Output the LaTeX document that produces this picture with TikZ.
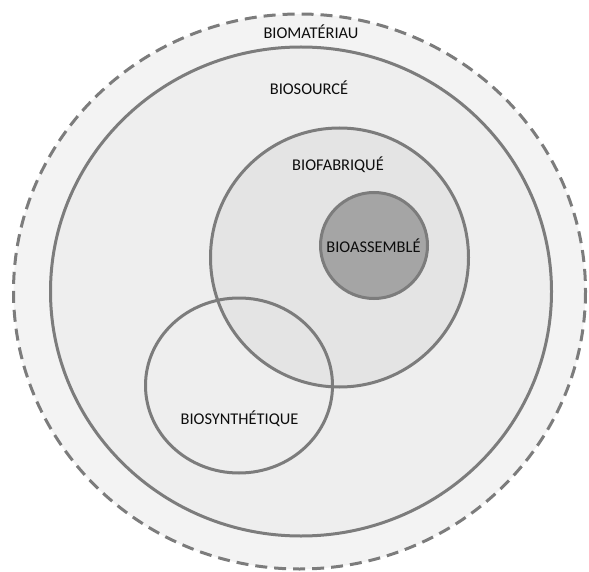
\documentclass[tikz,border=0pt]{standalone}
\usepackage{fontspec}
\setmainfont{Carlito}
\definecolor{ringfill}{HTML}{F3F3F3}
\definecolor{srcfill}{HTML}{EEEEEE}
\definecolor{fabfill}{HTML}{E4E4E4}
\definecolor{assfill}{HTML}{A5A5A5}
\definecolor{edge}{HTML}{7C7C7C}
\definecolor{txt}{HTML}{0D0D0D}
\tikzset{
  setline/.style={draw=edge, line width=3pt},
  lbl/.style={text=txt, font=\fontsize{16.4}{18}\selectfont, inner sep=0pt}
}
\begin{document}
\begin{tikzpicture}[x=1pt,y=-1pt]
\useasboundingbox (0,0) rectangle (589,572);
% outer dashed set
\fill[ringfill] (299.5,291.5) ellipse [x radius=286, y radius=277.5];
\draw[setline, dash pattern=on 12pt off 7pt] (299.5,291.5) ellipse [x radius=286, y radius=277.5];
% biosource
\draw[setline, fill=srcfill] (301,291.5) ellipse [x radius=250.5, y radius=244.5];
% biofabrique
\draw[setline, fill=fabfill] (339.5,257.5) ellipse [x radius=129, y radius=129.5];
% bioassemble
\draw[setline, fill=assfill] (374,245.5) ellipse [x radius=53.5, y radius=53];
% biosynthetique
\draw[setline] (239,385.5) ellipse [x radius=93.5, y radius=87.5];
% labels
\node[lbl] (mat) at (311,32) {BIOMATÉRIAU};
\node[lbl] (src) at (309,88) {BIOSOURCÉ};
\node[lbl] (fab) at (338,165) {BIOFABRIQUÉ};
\node[lbl] (ass) at (373.5,246) {BIOASSEMBLÉ};
\node[lbl] (syn) at (239.5,419) {BIOSYNTHÉTIQUE};
\end{tikzpicture}
\end{document}
